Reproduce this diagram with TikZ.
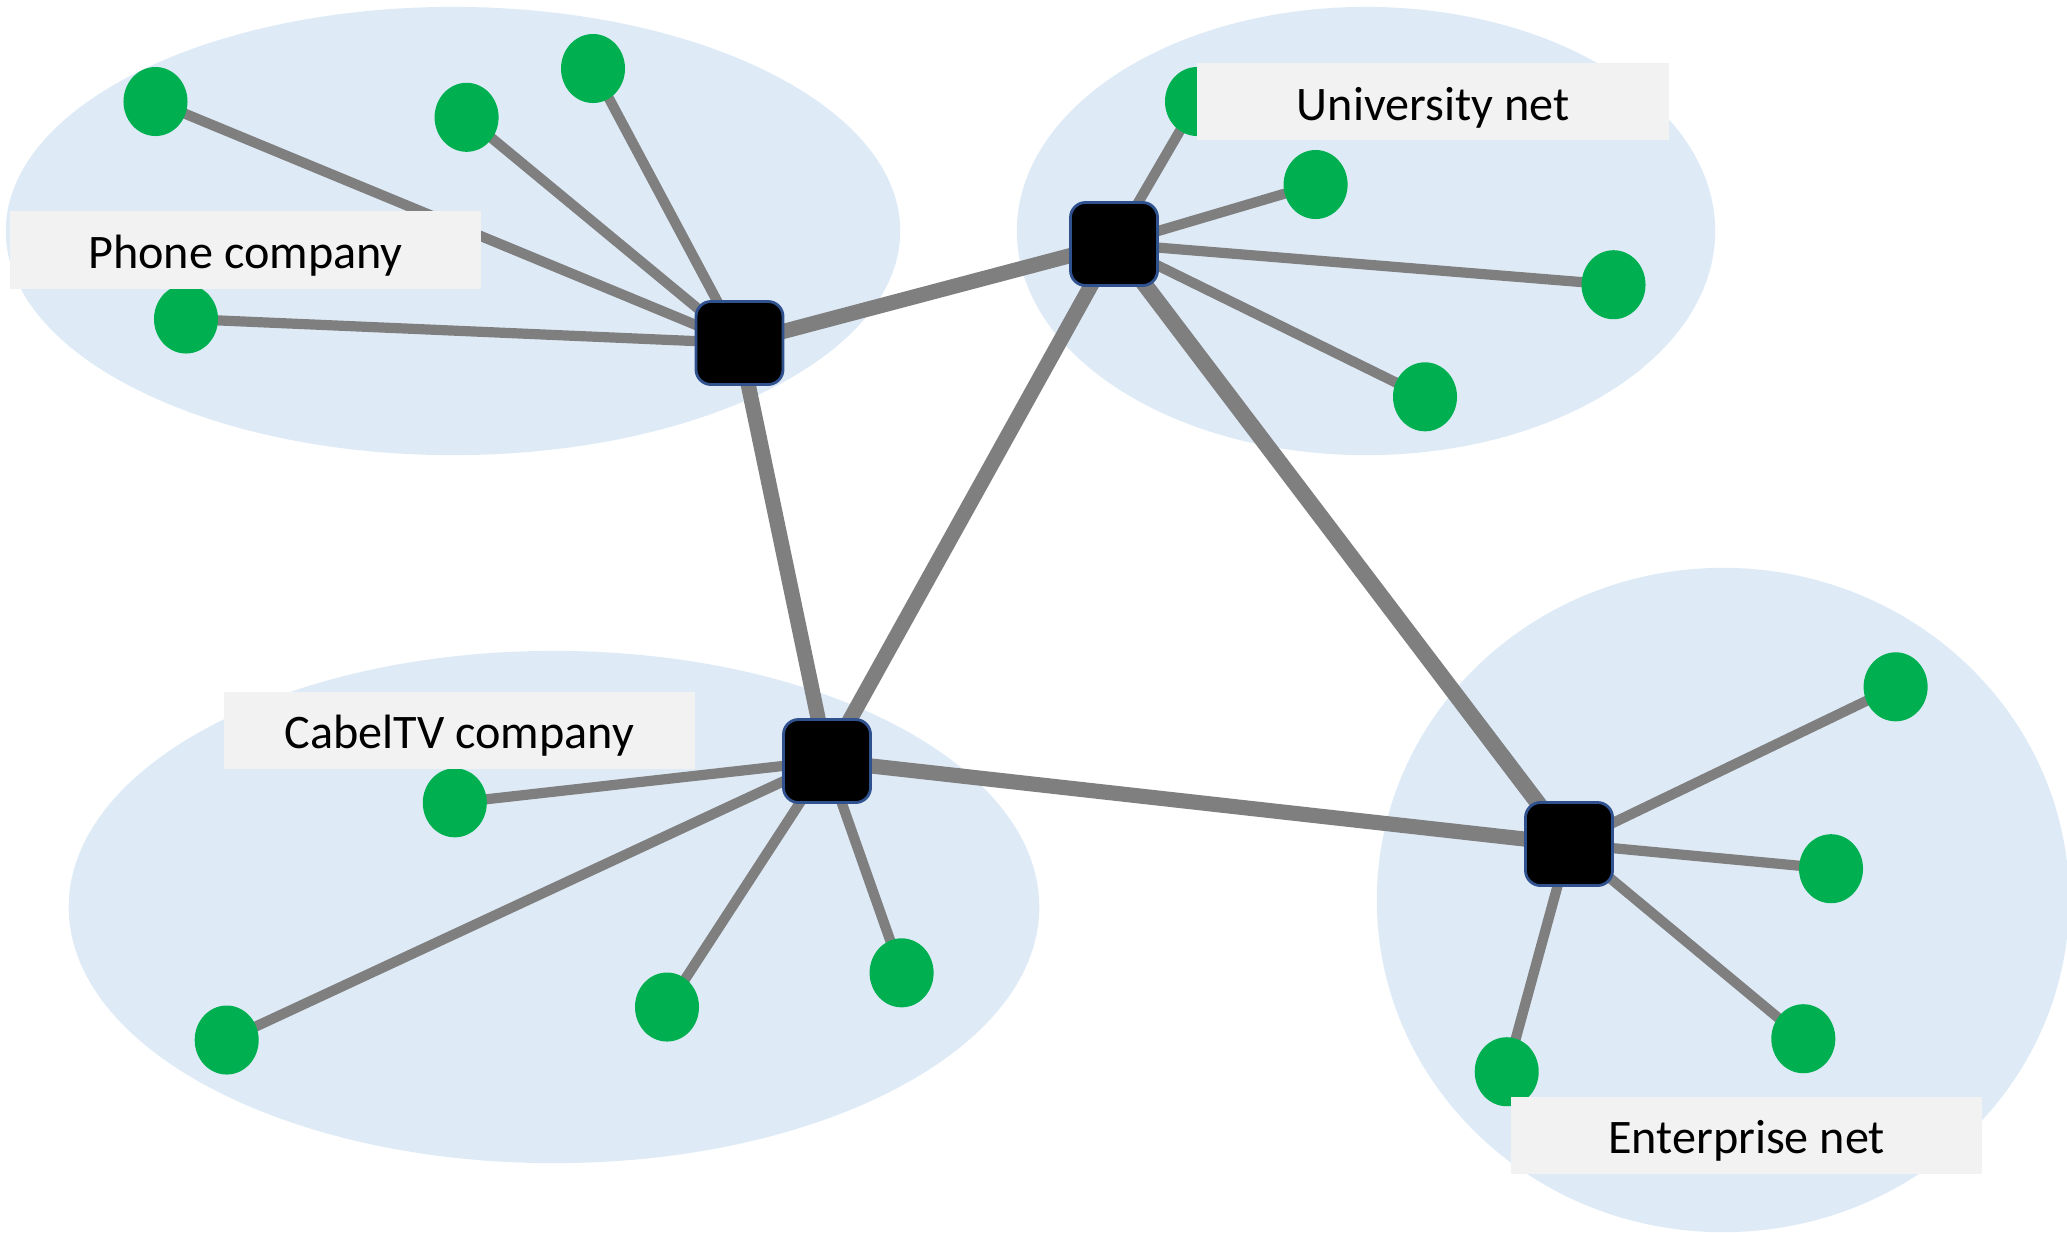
\documentclass[tikz,border=0pt]{standalone}
\usepackage{fontspec}
\setmainfont{Carlito}
\usetikzlibrary{shapes.geometric}
\definecolor{netblue}{HTML}{DEEBF7}
\definecolor{hostgreen}{HTML}{00B050}
\definecolor{linkgray}{HTML}{7F7F7F}
\definecolor{labelgray}{HTML}{F2F2F2}
\definecolor{routerrim}{HTML}{2F528F}
\pgfdeclarelayer{nets}
\pgfdeclarelayer{links}
\pgfsetlayers{nets,links,main}
\tikzset{
  net/.style={fill=netblue},
  host/.style={ellipse,fill=hostgreen,minimum width=0.64cm,minimum height=0.69cm,inner sep=0pt},
  router/.style={rectangle,fill=black,draw=routerrim,line width=0.8pt,
    rounded corners=0.15cm,minimum width=0.87cm,minimum height=0.83cm,inner sep=0pt},
  netlabel/.style={rectangle,fill=labelgray,minimum width=4.71cm,minimum height=0.77cm,
    inner sep=0pt,text height=12pt,text depth=1.36pt,font=\fontsize{13.7}{16}\selectfont},
  hostlink/.style={linkgray,line width=2.9pt},
  trunk/.style={linkgray,line width=4.3pt}
}

\begin{document}
\begin{tikzpicture}[x=0.01cm, y=-0.01cm]
\useasboundingbox (0,0) rectangle (2067,1232);

% the four networks
\begin{pgfonlayer}{nets}
\begin{scope}
  \clip (0,0) rectangle (2067,1232);
  \fill[net] (453,231) ellipse [x radius=4.47cm, y radius=2.24cm];
  \fill[net] (1366,231) ellipse [x radius=3.49cm, y radius=2.24cm];
  \fill[net] (554,907) ellipse [x radius=4.85cm, y radius=2.56cm];
  \fill[net] (1723,900) ellipse [x radius=3.46cm, y radius=3.32cm];
\end{scope}
\end{pgfonlayer}

% routers
\node[router] (phoneR) at (739.5,343) {};
\node[router] (uniR) at (1114,244) {};
\node[router] (cableR) at (827,761) {};
\node[router] (entR) at (1569,844) {};

% hosts
\foreach \n/\x/\y in {p1/155.5/101.5, p2/466.6/117.3, p3/593/68.5, p4/186/319,
  u1/1197/101.5, u2/1315.6/184.5, u3/1613.5/284.7, u4/1425/396.8,
  c1/454.8/802.8, c2/226.7/1040, c3/667/1007, c4/901.6/972.8,
  e1/1895.6/686.8, e2/1831/868.7, e3/1803.3/1038.7, e4/1506.7/1071.7}
  \node[host] (\n) at (\x,\y) {};

\begin{pgfonlayer}{links}
  \foreach \h in {p1,p2,p3,p4}
    \draw[hostlink] (\h.center) -- (phoneR.center);
  \foreach \h in {u1,u2,u3,u4}
    \draw[hostlink] (\h.center) -- (uniR.center);
  \foreach \h in {c1,c2,c3,c4}
    \draw[hostlink] (\h.center) -- (cableR.center);
  \foreach \h in {e1,e2,e3,e4}
    \draw[hostlink] (\h.center) -- (entR.center);

  \draw[trunk] (phoneR.center) -- (uniR.center);
  \draw[trunk] (phoneR.center) -- (cableR.center);
  \draw[trunk] (uniR.center) -- (cableR.center);
  \draw[trunk,line width=4.6pt] (uniR.center) -- (entR.center);
  \draw[trunk] (cableR.center) -- (entR.center);
\end{pgfonlayer}

% labels
\node[netlabel] (phoneLbl) at (245.5,250) {Phone company};
\node[netlabel] (uniLbl) at (1433,101.5) {University net};
\node[netlabel] (cableLbl) at (459.5,730) {CabelTV company};
\node[netlabel] (entLbl) at (1746.6,1135) {Enterprise net};
\end{tikzpicture}
\end{document}
